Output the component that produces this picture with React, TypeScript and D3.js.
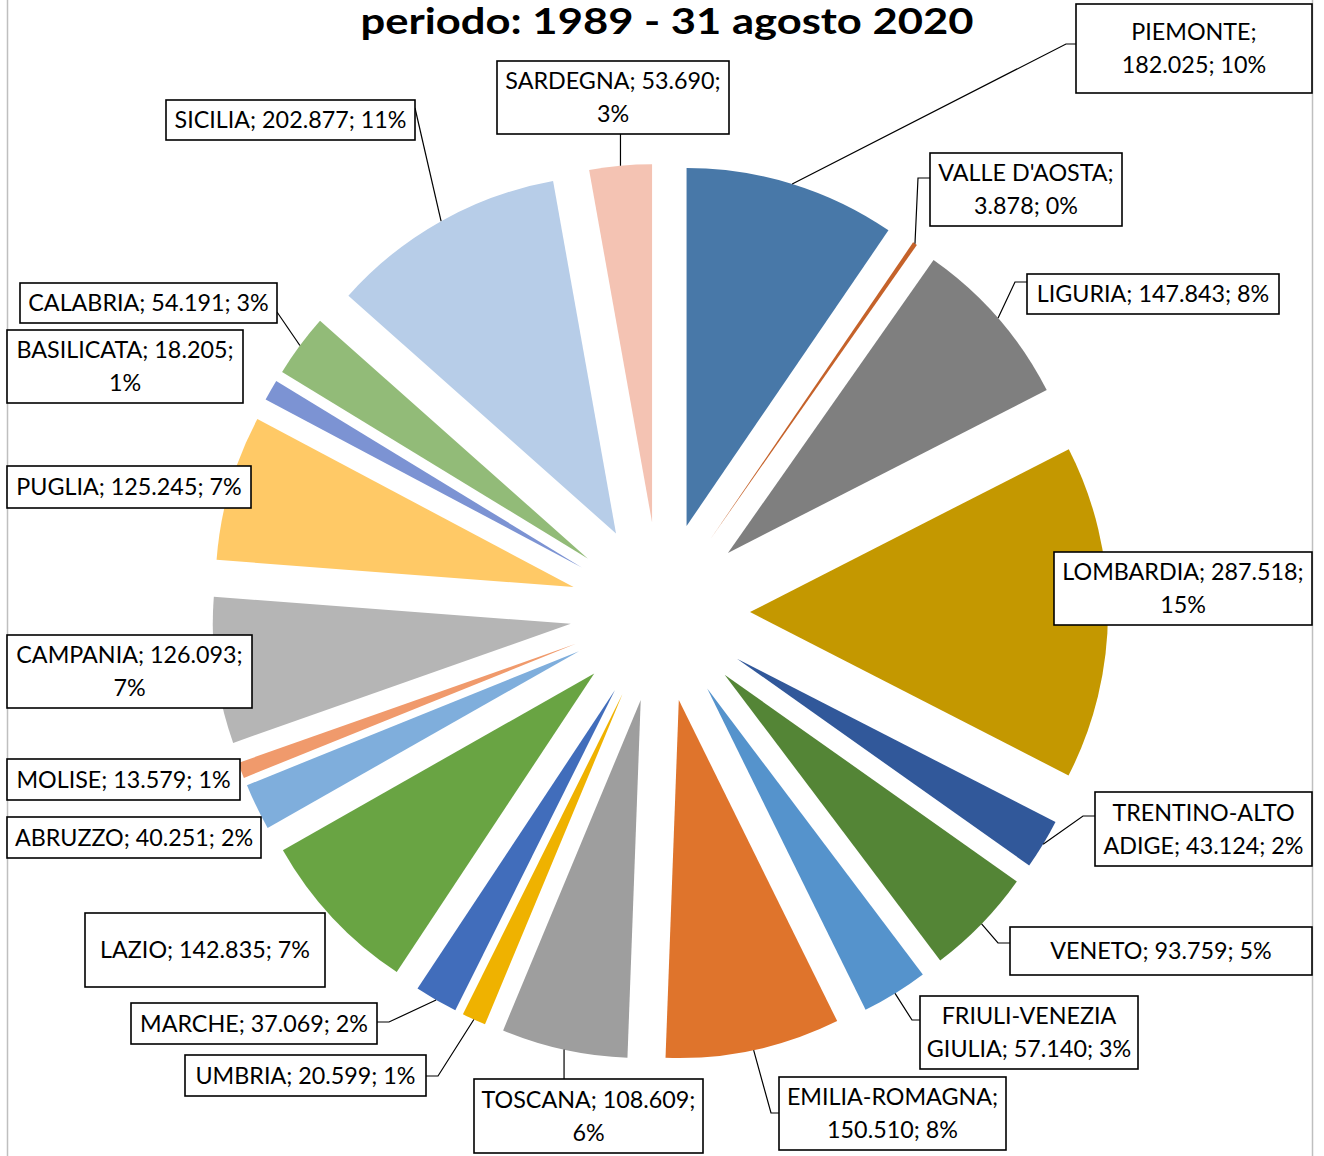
import React from 'react';
import * as d3 from 'd3';

// dati: regioni, totali 1989 - 31 agosto 2020
const regions = [
  'PIEMONTE', "VALLE D'AOSTA", 'LIGURIA', 'LOMBARDIA', 'TRENTINO-ALTO ADIGE',
  'VENETO', 'FRIULI-VENEZIA GIULIA', 'EMILIA-ROMAGNA', 'TOSCANA', 'UMBRIA',
  'MARCHE', 'LAZIO', 'ABRUZZO', 'MOLISE', 'CAMPANIA',
  'PUGLIA', 'BASILICATA', 'CALABRIA', 'SICILIA', 'SARDEGNA',
];
const values = [
  182025, 3878, 147843, 287518, 43124,
  93759, 57140, 150510, 108609, 20599,
  37069, 142835, 40251, 13579, 126093,
  125245, 18205, 54191, 202877, 53690,
];
const title = 'periodo: 1989 - 31 agosto 2020';

const colors = [
  '#4878A8', '#C5622A', '#7F7F7F', '#C49800', '#31589A',
  '#548536', '#5593CC', '#DF742C', '#9E9E9E', '#EFB200',
  '#416DBB', '#69A443', '#7FAEDC', '#F09A6C', '#B5B5B5',
  '#FFC966', '#7C93D3', '#92BB78', '#B7CDE8', '#F4C3B3',
];

// posizione dei riquadri delle etichette (k = parole sulla prima riga)
const labelBoxes: any[] = [
  { x: 1076, y: 4, w: 236, h: 89, k: 1, side: 'left', at: 44, stub: 10 },
  { x: 930, y: 153, w: 192, h: 73, k: 2, side: 'left', at: 178, stub: 12 },
  { x: 1027, y: 274, w: 252, h: 40, k: 99, side: 'left', at: 282, stub: 12 },
  { x: 1054, y: 552, w: 258, h: 73, k: 2 },
  { x: 1095, y: 792, w: 217, h: 74, k: 1, side: 'left', at: 816, stub: 12 },
  { x: 1010, y: 927, w: 302, h: 48, k: 99, side: 'left', at: 943, stub: 12 },
  { x: 920, y: 996, w: 218, h: 73, k: 1, side: 'left', at: 1020, stub: 8 },
  { x: 779, y: 1077, w: 227, h: 73, k: 1, side: 'left', at: 1113, stub: 8 },
  { x: 474, y: 1079, w: 229, h: 74, k: 2, side: 'top' },
  { x: 185, y: 1055, w: 241, h: 41, k: 99, side: 'right', at: 1076, stub: 12 },
  { x: 131, y: 1003, w: 246, h: 41, k: 99, side: 'right', at: 1022, stub: 12 },
  { x: 85, y: 913, w: 240, h: 74, k: 99 },
  { x: 7, y: 817, w: 254, h: 41, k: 99 },
  { x: 7, y: 759, w: 233, h: 41, k: 99 },
  { x: 7, y: 635, w: 245, h: 73, k: 2 },
  { x: 7, y: 466, w: 244, h: 42, k: 99 },
  { x: 7, y: 330, w: 236, h: 73, k: 2 },
  { x: 20, y: 283, w: 257, h: 40, k: 99, side: 'right', at: 312, stub: 0 },
  { x: 166, y: 100, w: 249, h: 40, k: 99, side: 'right', at: 108, stub: 0 },
  { x: 497, y: 61, w: 232, h: 73, k: 2, side: 'bottom' },
];

const W = 1324;
const H = 1156;
const cx = 660;
const cy = 612;
const R = 358;
const explode = 90;
const FONT = 'Lato, "Noto Sans", sans-serif';

const itLocale = d3.formatLocale({ decimal: ',', thousands: '.', grouping: [3], currency: ['', '€'] });
const fmt = itLocale.format(',d');

export default function App() {
  const total = d3.sum(values);
  const pie = d3.pie<number>().sort(null).value(d => d)(values);
  const arc = d3.arc<d3.PieArcDatum<number>>().innerRadius(0).outerRadius(R);

  const slices = pie.map((p, i) => {
    const mid = (p.startAngle + p.endAngle) / 2;
    const dx = explode * Math.sin(mid);
    const dy = -explode * Math.cos(mid);
    // punto sul bordo esterno lungo la bisettrice
    const ax = cx + dx + R * Math.sin(mid);
    const ay = cy + dy - R * Math.cos(mid);
    return { p, i, dx, dy, ax, ay };
  });

  return (
    <svg width={W} height={H} style={{ position: 'absolute', left: 0, top: 0, background: '#fff' }}>
      <rect x={0} y={0} width={W} height={H} fill="#fff" />
      <line x1={7.5} x2={7.5} y1={0} y2={H} stroke="#BFBFBF" strokeWidth={1.5} />
      <line x1={1312.5} x2={1312.5} y1={0} y2={H} stroke="#BFBFBF" strokeWidth={1.5} />

      <g>
        {slices.map(s => (
          <path
            key={regions[s.i]}
            d={arc(s.p) as string}
            transform={`translate(${cx + s.dx},${cy + s.dy})`}
            fill={colors[s.i]}
          />
        ))}
      </g>

      <g fill="none" stroke="#000" strokeWidth={1.2}>
        {slices.map(s => {
          const b = labelBoxes[s.i];
          if (!b.side) return null;
          let pts: [number, number][] = [];
          if (b.side === 'left') pts = [[s.ax, s.ay], [b.x - b.stub, b.at], [b.x, b.at]];
          if (b.side === 'right') pts = [[s.ax, s.ay], [b.x + b.w + b.stub, b.at], [b.x + b.w, b.at]];
          if (b.side === 'top') pts = [[s.ax, s.ay], [s.ax, b.y]];
          if (b.side === 'bottom') pts = [[s.ax, s.ay], [s.ax, b.y + b.h]];
          return <path key={'l' + s.i} d={d3.line()(pts) as string} />;
        })}
      </g>

      <g>
        {values.map((v, i) => {
          const b = labelBoxes[i];
          const words = `${regions[i]}; ${fmt(v)}; ${Math.round((v / total) * 100)}%`.split(' ');
          const lines = b.k >= words.length
            ? [words.join(' ')]
            : [words.slice(0, b.k).join(' '), words.slice(b.k).join(' ')];
          const lh = 33;
          const y0 = b.y + b.h / 2 - ((lines.length - 1) * lh) / 2;
          return (
            <g key={'b' + i}>
              <rect x={b.x} y={b.y} width={b.w} height={b.h} fill="#fff" stroke="#000" strokeWidth={1.6} />
              {lines.map((t, j) => (
                <text
                  key={j}
                  x={b.x + b.w / 2}
                  y={y0 + j * lh}
                  dy="0.36em"
                  textAnchor="middle"
                  fontFamily={FONT}
                  fontSize={23.3}
                  fill="#000"
                >
                  {t}
                </text>
              ))}
            </g>
          );
        })}
      </g>

      <text
        x={667}
        y={34}
        textAnchor="middle"
        fontFamily={FONT}
        fontWeight="bold"
        fontSize={36}
        textLength={613}
        lengthAdjust="spacingAndGlyphs"
        fill="#000"
      >
        {title}
      </text>
    </svg>
  );
}
